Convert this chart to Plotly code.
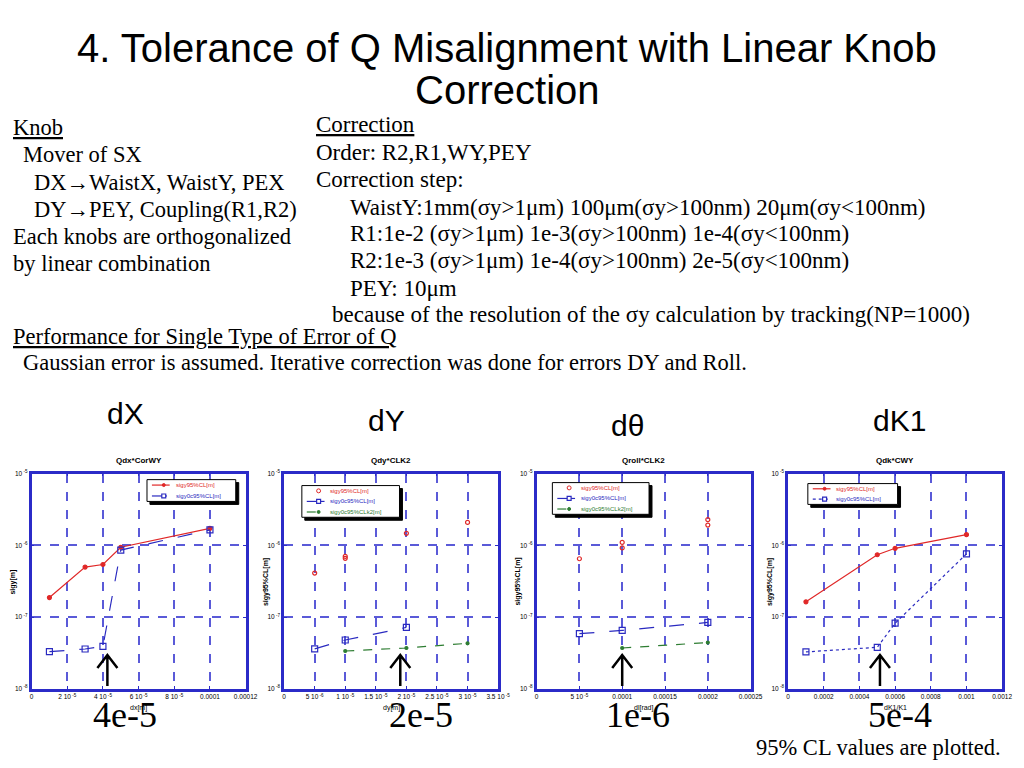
import plotly.graph_objects as go

W, H = 1024, 768

# ---------------- data ----------------
dx_x = [1e-5, 3e-5, 4e-5, 5e-5, 1e-4]
dx_sigy = [1.87e-7, 4.97e-7, 5.41e-7, 9.4e-7, 1.73e-6]
dx_sigy0c = [3.29e-8, 3.58e-8, 3.9e-8, 8.6e-7, 1.64e-6]

dy_x_red = [5e-6, 1e-5, 1e-5, 2e-5, 3e-5]
dy_sigy = [4.1e-7, 7.0e-7, 6.6e-7, 1.47e-6, 2.09e-6]
dy_x_blue = [5e-6, 1e-5, 2e-5]
dy_sigy0c = [3.6e-8, 4.78e-8, 7.16e-8]
dy_x_green = [1e-5, 2e-5, 3e-5]
dy_sigy0c_k2 = [3.36e-8, 3.7e-8, 4.3e-8]

roll_x_red = [5e-5, 1e-4, 1e-4, 2e-4, 2e-4]
roll_sigy = [6.5e-7, 1.1e-6, 9.2e-7, 2.28e-6, 1.92e-6]
roll_x_blue = [5e-5, 1e-4, 2e-4]
roll_sigy0c = [5.85e-8, 6.5e-8, 8.4e-8]
roll_x_green = [1e-4, 2e-4]
roll_sigy0c_k2 = [3.7e-8, 4.4e-8]

dk_x = [1e-4, 5e-4, 6e-4, 1e-3]
dk_sigy = [1.63e-7, 7.4e-7, 9.1e-7, 1.41e-6]
dk_sigy0c = [3.26e-8, 3.78e-8, 8.2e-8, 7.6e-7]

y_ticks = [1e-8, 1e-7, 1e-6, 1e-5]
y_ticktext = ["10<sup> -8</sup>", "10<sup> -7</sup>", "10<sup> -6</sup>", "10<sup> -5</sup>"]

x1_ticks = [0, 2e-5, 4e-5, 6e-5, 8e-5, 1e-4, 1.2e-4]
x1_text = ["0", "2 10<sup> -5</sup>", "4 10<sup> -5</sup>", "6 10<sup> -5</sup>", "8 10<sup> -5</sup>", "0.0001", "0.00012"]
x2_ticks = [0, 5e-6, 1e-5, 1.5e-5, 2e-5, 2.5e-5, 3e-5, 3.5e-5]
x2_text = ["0", "5 10<sup> -6</sup>", "1 10<sup> -5</sup>", "1.5 10<sup> -5</sup>", "2 10<sup> -5</sup>",
           "2.5 10<sup> -5</sup>", "3 10<sup> -5</sup>", "3.5 10<sup> -5</sup>"]
x3_ticks = [0, 5e-5, 1e-4, 1.5e-4, 2e-4, 2.5e-4]
x3_text = ["0", "5 10<sup> -5</sup>", "0.0001", "0.00015", "0.0002", "0.00025"]
x4_ticks = [0, 2e-4, 4e-4, 6e-4, 8e-4, 1e-3, 1.2e-3]
x4_text = ["0", "0.0002", "0.0004", "0.0006", "0.0008", "0.001", "0.0012"]

panel_titles = ["Qdx*CorWY", "Qdy*CLK2", "Qroll*CLK2", "Qdk*CWY"]
panel_ytitles = ["sigy[m]", "sigy95%CL[m]", "sigy95%CL[m]", "sigy95%CL[m]"]
panel_xtitles = ["dx[m]", "dy[m]", "dl[rad]", "dK1/K1"]
big_labels = ["dX", "dY", "d\u03b8", "dK1"]
tol_labels = ["4e-5", "2e-5", "1e-6", "5e-4"]
arrow_x = [4.25e-5, 1.9e-5, 1.0e-4, 5.15e-4]

# ---------------- helpers ----------------
def X(px):
    return px / W

def Y(py):
    return 1 - py / H

RED = "#e02828"
BLUE = "#2a2ac0"
GREEN = "#2e7d32"
GRID = "#5a5ad8"
FRAME = "#2b2bc8"
SANS = "Liberation Sans, Arial, sans-serif"
SERIF = "Liberation Serif, Times New Roman, serif"

plot_left = [30, 286, 542, 797]
plot_width = 217
plot_top, plot_bottom = 474, 691

fig = go.Figure()

# ---------------- traces ----------------
def add(x, y, i, color, mode, dash="solid", symbol="circle-open", msize=5, lw=1.2):
    fig.add_trace(go.Scatter(
        x=x, y=y, xaxis="x%d" % i, yaxis="y%d" % i, mode=mode,
        line=dict(color=color, width=lw, dash=dash),
        marker=dict(color=color, symbol=symbol, size=msize, line=dict(color=color, width=1.2)),
        showlegend=False, hoverinfo="skip"))

add(dx_x, dx_sigy, 1, RED, "lines+markers", "solid", "circle", 4)
add(dx_x, dx_sigy0c, 1, BLUE, "lines+markers", "longdash", "square-open", 6)

add(dy_x_red, dy_sigy, 2, RED, "markers", symbol="circle-open", msize=4)
add(dy_x_blue, dy_sigy0c, 2, BLUE, "lines+markers", "longdash", "square-open", 6)
add(dy_x_green, dy_sigy0c_k2, 2, GREEN, "lines+markers", "dash", "circle", 3)

add(roll_x_red, roll_sigy, 3, RED, "markers", symbol="circle-open", msize=4)
add(roll_x_blue, roll_sigy0c, 3, BLUE, "lines+markers", "longdash", "square-open", 6)
add(roll_x_green, roll_sigy0c_k2, 3, GREEN, "lines+markers", "dash", "circle", 3)

add(dk_x, dk_sigy, 4, RED, "lines+markers", "solid", "circle", 4)
add(dk_x, dk_sigy0c, 4, BLUE, "lines+markers", "dot", "square-open", 6)

# ---------------- axes ----------------
xticks = [(x1_ticks, x1_text), (x2_ticks, x2_text), (x3_ticks, x3_text), (x4_ticks, x4_text)]
layout_axes = {}
for i in range(4):
    tv, tt = xticks[i]
    l = plot_left[i]
    sfx = "" if i == 0 else str(i + 1)
    layout_axes["xaxis" + sfx] = dict(
        domain=[X(l), X(l + plot_width)], range=[tv[0], tv[-1]], anchor="y" + str(i + 1),
        tickvals=tv, ticktext=tt, tickfont=dict(size=6.5, family=SANS, color="black"),
        showgrid=True, gridcolor=GRID, gridwidth=1.6, griddash="dash",
        showline=True, mirror="ticks", linecolor=FRAME, linewidth=2.5,
        ticks="inside", ticklen=3, tickcolor=FRAME, zeroline=False, fixedrange=True)
    layout_axes["yaxis" + sfx] = dict(
        domain=[Y(plot_bottom), Y(plot_top)], type="log", range=[-8, -5], anchor="x" + str(i + 1),
        tickvals=y_ticks, ticktext=y_ticktext, tickfont=dict(size=6.5, family=SANS, color="black"),
        showgrid=True, gridcolor=GRID, gridwidth=2.2, griddash="dash",
        showline=True, mirror="ticks", linecolor=FRAME, linewidth=2.5,
        ticks="inside", ticklen=3, tickcolor=FRAME, zeroline=False, fixedrange=True)

# ---------------- text ----------------
ann = []

def text(x, y, s, size, family=SERIF, xanchor="left", color="black", angle=0, yanchor="middle"):
    ann.append(dict(x=X(x), y=Y(y), xref="paper", yref="paper", text=s, showarrow=False,
                    xanchor=xanchor, yanchor=yanchor, textangle=angle,
                    font=dict(size=size, family=family, color=color)))

text(512, 44, "4. Tolerance of Q Misalignment with Linear Knob", 40, SANS, "center")
text(512, 87, "Correction", 40, SANS, "center")

left_lines = [(9, 125, "<u>Knob</u>"), (19, 152, "Mover of SX"),
              (30, 180, "DX\u2192WaistX, WaistY, PEX"), (30, 207, "DY\u2192PEY, Coupling(R1,R2)"),
              (9, 235, "Each knobs are orthogonalized"), (9, 262, "by linear combination")]
for x, y, s in left_lines:
    text(x, y, s, 22.5)

right_lines = [(316, 122, "<u>Correction</u>"), (316, 150, "Order: R2,R1,WY,PEY"),
               (316, 177, "Correction step:"),
               (351, 205, "WaistY:1mm(\u03c3y>1\u03bcm) 100\u03bcm(\u03c3y>100nm) 20\u03bcm(\u03c3y<100nm)"),
               (351, 232, "R1:1e-2 (\u03c3y>1\u03bcm) 1e-3(\u03c3y>100nm) 1e-4(\u03c3y<100nm)"),
               (351, 259, "R2:1e-3 (\u03c3y>1\u03bcm) 1e-4(\u03c3y>100nm) 2e-5(\u03c3y<100nm)"),
               (351, 287, "PEY: 10\u03bcm"),
               (333, 313, "because of the resolution of the \u03c3y calculation by tracking(NP=1000)")]
for x, y, s in right_lines:
    text(x, y, s, 23)

text(9, 336, "<u>Performance for Single Type of Error of Q</u>", 22.5)
text(19, 362, "Gaussian error is assumed. Iterative correction was done for errors DY and Roll.", 22.5)

big_pos = [(125, 413), (390, 420), (634, 425), (910, 420)]
for (x, y), s in zip(big_pos, big_labels):
    text(x, y, s, 30, SANS, "center")

for i in range(4):
    cx = plot_left[i] + plot_width / 2
    text(cx, 461, "<b>%s</b>" % panel_titles[i], 8, SANS, "center")
    text(plot_left[i] - 19, 583, "<b>%s</b>" % panel_ytitles[i], 7, SANS, "center", angle=-90)
    text(cx, 710, panel_xtitles[i], 7, SANS, "center")

tol_pos = [125, 425, 645, 910]
for x, s in zip(tol_pos, tol_labels):
    text(x, 718, s, 36, SERIF, "center")

text(889, 750, "95% CL values are plotted.", 22.5, SERIF, "center")

# ---------------- shapes: legends and arrows ----------------
shapes = []

def rect(x0, y0, x1, y1, fill, line_color=None, lw=1):
    shapes.append(dict(type="rect", xref="paper", yref="paper", x0=X(x0), x1=X(x1), y0=Y(y1), y1=Y(y0),
                       fillcolor=fill, line=dict(color=line_color or fill, width=lw), layer="above"))

def seg(x0, y0, x1, y1, color, dash="solid", lw=1.2):
    shapes.append(dict(type="line", xref="paper", yref="paper", x0=X(x0), x1=X(x1), y0=Y(y0), y1=Y(y1),
                       line=dict(color=color, width=lw, dash=dash), layer="above"))

def mark(x, y, color, kind):
    r = 2
    if kind == "sq":
        shapes.append(dict(type="rect", xref="paper", yref="paper", x0=X(x - r), x1=X(x + r),
                           y0=Y(y + r), y1=Y(y - r), fillcolor="white",
                           line=dict(color=color, width=1.2), layer="above"))
    else:
        fill = color if kind == "dot" else "white"
        rr = 1.5 if kind == "dot" else 2
        shapes.append(dict(type="circle", xref="paper", yref="paper", x0=X(x - rr), x1=X(x + rr),
                           y0=Y(y + rr), y1=Y(y - rr), fillcolor=fill,
                           line=dict(color=color, width=1), layer="above"))

legend_specs = [
    ((147, 480, 237, 502), [(RED, "solid", "dot", "sigy95%CL[m]"), (BLUE, "longdash", "sq", "sigy0c95%CL[m]")]),
    ((304, 486, 403, 518), [(RED, None, "circ", "sigy95%CL[m]"), (BLUE, "solid", "sq", "sigy0c95%CL[m]"),
                            (GREEN, "dash", "dot", "sigy0c95%CLk2[m]")]),
    ((558, 483, 656, 515), [(RED, None, "circ", "sigy95%CL[m]"), (BLUE, "solid", "sq", "sigy0c95%CL[m]"),
                            (GREEN, "dash", "dot", "sigy0c95%CLk2[m]")]),
    ((817, 484, 908, 505), [(RED, "solid", "dot", "sigy95%CL[m]"), (BLUE, "dot", "sq", "sigy0c95%CL[m]")]),
]
for (x0, y0, x1, y1), entries in legend_specs:
    rect(x0 + 3, y0 + 3, x1 + 3, y1 + 3, "black")
    rect(x0, y0, x1, y1, "white", "black", 1)
    n = len(entries)
    step = (y1 - y0) / n
    for k, (col, dash, mk, lab) in enumerate(entries):
        yy = y0 + step * (k + 0.5)
        if dash:
            seg(x0 + 5, yy, x0 + 23, yy, col, dash)
        mark(x0 + 17, yy, col, mk)
        text(x0 + 27, yy, lab, 6, SANS, "left", col)

for i in range(4):
    shapes.append(dict(type="path", xref="x%d" % (i + 1), yref="paper",
                       xsizemode="pixel", ysizemode="pixel", xanchor=arrow_x[i], yanchor=Y(657),
                       path="M 0 0 L 0 -31 M -10 -13 L 0 0 L 10 -13",
                       line=dict(color="black", width=2.5), layer="above"))

fig.update_layout(
    width=W, height=H, margin=dict(l=0, r=0, t=0, b=0),
    paper_bgcolor="white", plot_bgcolor="white", showlegend=False,
    annotations=ann, shapes=shapes, **layout_axes)

fig.write_html("out.html", config={"displayModeBar": False},
               post_script="document.body.style.margin='0';")
